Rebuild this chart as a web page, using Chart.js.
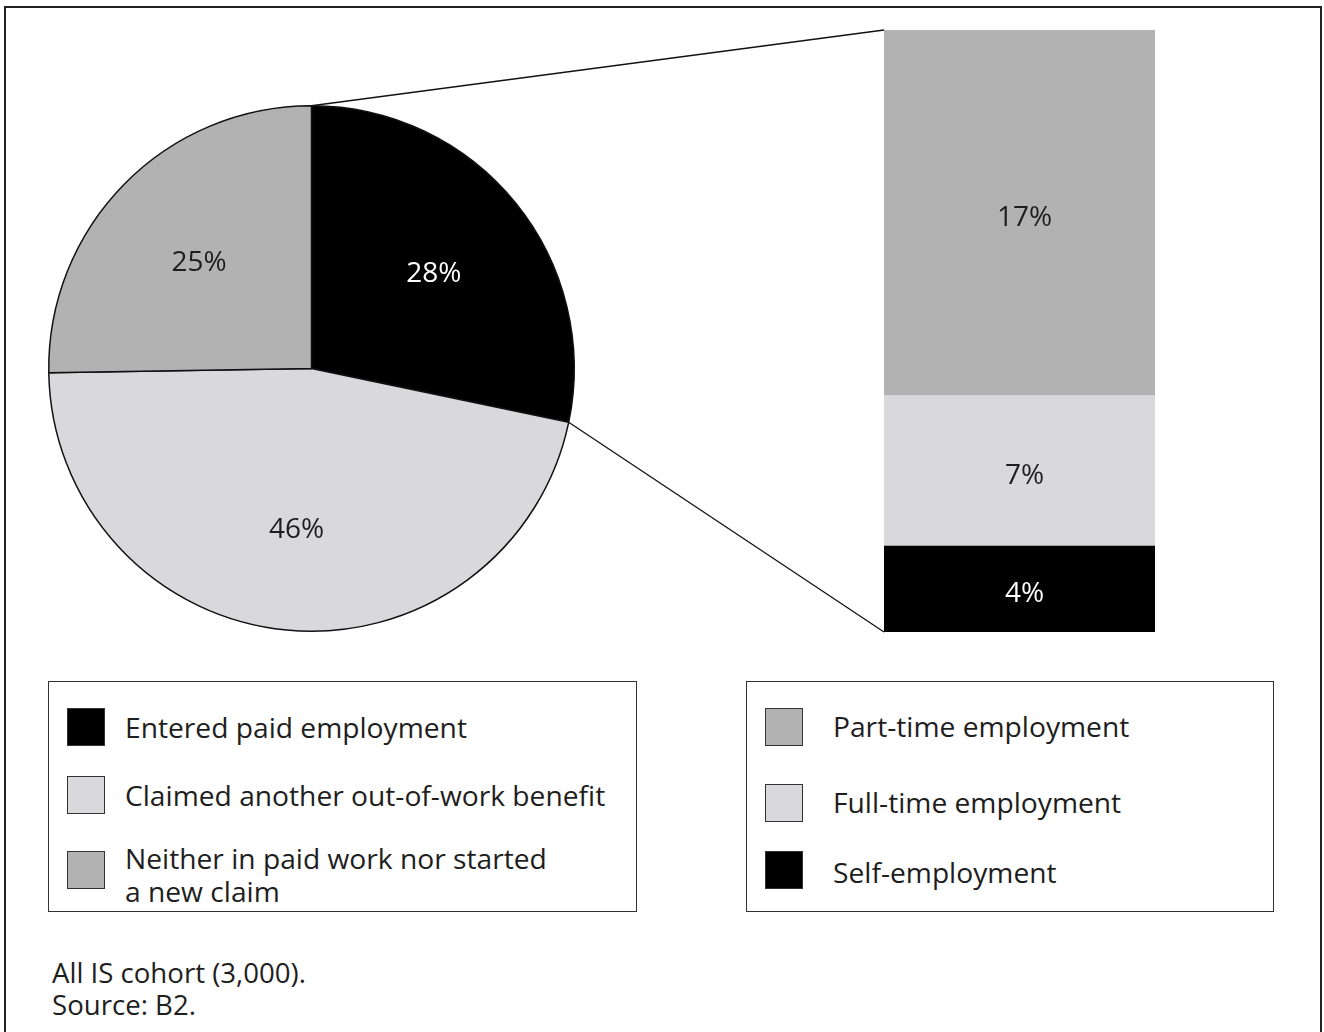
<!DOCTYPE html>
<html>
<head>
<meta charset="utf-8">
<script src="https://cdn.jsdelivr.net/npm/chart.js@4/dist/chart.umd.min.js"></script>
<style>
    body { margin: 0; background: #fff; font-family: "Open Sans", sans-serif; color: #1e1e1e; }
    #page { position: relative; width: 1324px; height: 1032px; overflow: hidden; }
    #frame { position: absolute; left: 4px; top: 6px; width: 1314px; height: 1100px; border: 2.5px solid #222; }
    canvas { position: absolute; left: 0; top: 0; }
    .legend { position: absolute; top: 681px; height: 231px; border: 1.5px solid #333; box-sizing: border-box; }
    .item { position: absolute; font-size: 28.2px; line-height: 33px; }
    .swatch { position: absolute; width: 38px; height: 38px; box-sizing: border-box; border: 1px solid #333; }
    #note { position: absolute; left: 52px; top: 956px; font-size: 27.6px; line-height: 32px; }
</style>
</head>
<body>
<div id="page">
    <div id="frame"></div>
    <canvas id="pieChart" width="1324" height="660"></canvas>
    <canvas id="barChart" width="1324" height="660"></canvas>

    <div class="legend" style="left:48px; width:589px;">
        <div class="swatch" style="left:18px; top:26px; background:#000;"></div>
        <div class="item" style="left:76px; top:29px;">Entered paid employment</div>
        <div class="swatch" style="left:18px; top:94px; background:#d9d9db;"></div>
        <div class="item" style="left:76px; top:97px;">Claimed another out-of-work benefit</div>
        <div class="swatch" style="left:18px; top:169px; background:#b2b2b3;"></div>
        <div class="item" style="left:76px; top:160px;">Neither in paid work nor started<br>a new claim</div>
    </div>

    <div class="legend" style="left:746px; width:528px;">
        <div class="swatch" style="left:18px; top:26px; background:#b2b2b3;"></div>
        <div class="item" style="left:86px; top:28px;">Part-time employment</div>
        <div class="swatch" style="left:18px; top:102px; background:#d9d9db;"></div>
        <div class="item" style="left:86px; top:104px;">Full-time employment</div>
        <div class="swatch" style="left:18px; top:169px; background:#000;"></div>
        <div class="item" style="left:86px; top:174px;">Self-employment</div>
    </div>

    <div id="note">All IS cohort (3,000).<br>Source: B2.</div>
</div>

<script>
// outcome shares for the whole cohort
const outcomeLabels = ['Entered paid employment', 'Claimed another out-of-work benefit', 'Neither in paid work nor started a new claim'];
const outcomeValues = [28, 46, 25];
const outcomeColors = ['#000000', '#d9d9db', '#b2b2b3'];

// breakdown of the paid employment slice, bottom to top
const jobLabels = ['Self-employment', 'Full-time employment', 'Part-time employment'];
const jobValues = [4, 7, 17];
const jobColors = ['#000000', '#d9d9db', '#b2b2b3'];

const labelFont = '28px "Open Sans", sans-serif';

const pieLabels = {
    id: 'pieLabels',
    afterDatasetsDraw(chart) {
        const ctx = chart.ctx;
        const arcs = chart.getDatasetMeta(0).data;
        ctx.save();
        ctx.font = labelFont;
        ctx.textAlign = 'center';
        ctx.textBaseline = 'middle';
        arcs.forEach((arc, i) => {
            const mid = (arc.startAngle + arc.endAngle) / 2;
            const r = arc.outerRadius * 0.6;
            ctx.fillStyle = i === 0 ? '#fff' : '#1e1e1e';
            ctx.fillText(outcomeValues[i] + '%', arc.x + Math.cos(mid) * r, arc.y + Math.sin(mid) * r + 5);
        });
        ctx.restore();
    }
};

const pieChart = new Chart(document.getElementById('pieChart'), {
    type: 'pie',
    data: {
        labels: outcomeLabels,
        datasets: [{ data: outcomeValues, backgroundColor: outcomeColors, borderColor: '#111', borderWidth: 1.5 }]
    },
    options: {
        responsive: false,
        animation: false,
        layout: { padding: { left: 48, right: 749, top: 105, bottom: 28 } },
        plugins: { legend: { display: false }, tooltip: { enabled: false } }
    },
    plugins: [pieLabels]
});

// lines from the employment slice out to the stacked bar, plus bar labels
const barExtras = {
    id: 'barExtras',
    afterDatasetsDraw(chart) {
        const ctx = chart.ctx;
        const arc = pieChart.getDatasetMeta(0).data[0];
        const bottomBar = chart.getDatasetMeta(0).data[0];
        const topBar = chart.getDatasetMeta(jobValues.length - 1).data[0];
        const left = bottomBar.x - bottomBar.width / 2;

        ctx.save();
        ctx.strokeStyle = '#111';
        ctx.lineWidth = 1.3;
        ctx.beginPath();
        ctx.moveTo(arc.x + Math.cos(arc.startAngle) * arc.outerRadius, arc.y + Math.sin(arc.startAngle) * arc.outerRadius);
        ctx.lineTo(left, topBar.y);
        ctx.moveTo(arc.x + Math.cos(arc.endAngle) * arc.outerRadius, arc.y + Math.sin(arc.endAngle) * arc.outerRadius);
        ctx.lineTo(left, bottomBar.base);
        ctx.stroke();

        ctx.font = labelFont;
        ctx.textAlign = 'center';
        ctx.textBaseline = 'middle';
        jobValues.forEach((v, i) => {
            const bar = chart.getDatasetMeta(i).data[0];
            ctx.fillStyle = i === 0 ? '#fff' : '#1e1e1e';
            ctx.fillText(v + '%', bar.x + 5, (bar.y + bar.base) / 2 + 5);
        });
        ctx.restore();
    }
};

new Chart(document.getElementById('barChart'), {
    type: 'bar',
    data: {
        labels: ['Entered paid employment'],
        datasets: jobValues.map((v, i) => ({
            label: jobLabels[i],
            data: [v],
            backgroundColor: jobColors[i],
            borderWidth: 0,
            barPercentage: 1,
            categoryPercentage: 1
        }))
    },
    options: {
        responsive: false,
        animation: false,
        layout: { padding: { left: 884, right: 169, top: 30, bottom: 28 } },
        scales: {
            x: { stacked: true, display: false },
            y: { stacked: true, display: false, min: 0, max: 28 }
        },
        plugins: { legend: { display: false }, tooltip: { enabled: false } }
    },
    plugins: [barExtras]
});
</script>
</body>
</html>
